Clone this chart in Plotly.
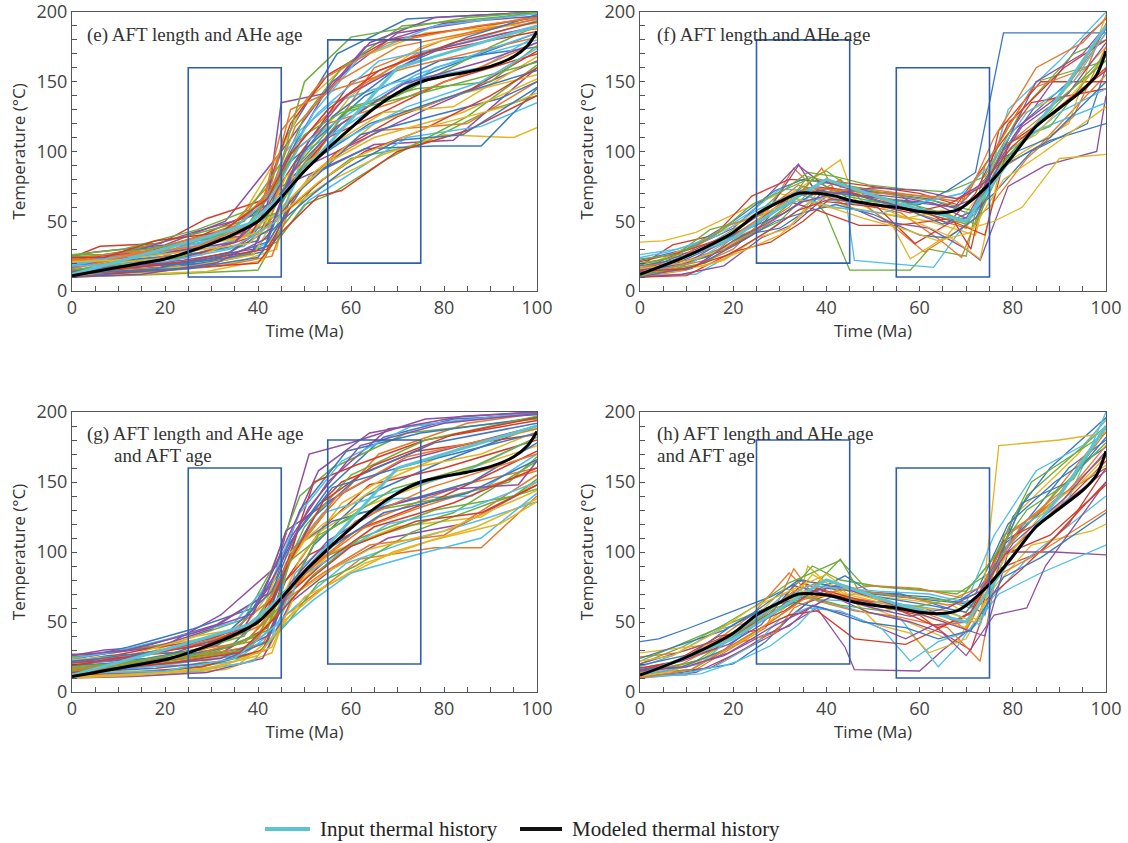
import plotly.graph_objects as go

# ---------------- data ----------------
PALETTE = ["#3A78C0", "#E8792A", "#E5B420", "#8E4FA0", "#6BAE3B", "#D53B2A", "#4DBEEE"]

# Thermal-history paths (time Ma, temperature °C)
PATHS_E = [
    [(0,12),(12,18),(30,22),(42,35),(47,80),(58,120),(72,150),(88,170),(100,185)],
    [(0,20),(8,25),(25,30),(40,45),(45,70),(53,100),(65,160),(80,180),(100,195)],
    [(0,15),(15,15),(35,20),(44,30),(48,90),(60,140),(75,175),(90,190),(100,198)],
    [(0,25),(5,28),(20,33),(33,50),(45,100),(56,150),(70,185),(100,200)],
    [(0,10),(20,12),(40,15),(45,45),(52,75),(60,95),(75,105),(90,130),(100,140)],
    [(0,18),(10,22),(28,40),(38,55),(44,65),(55,110),(68,130),(80,150),(100,170)],
    [(0,14),(7,20),(22,25),(37,32),(46,62),(50,100),(62,125),(78,160),(100,180)],
    [(0,22),(14,30),(30,35),(41,60),(46,110),(57,170),(72,195),(100,200)],
    [(0,11),(18,14),(32,18),(43,25),(48,70),(56,95),(66,115),(85,120),(100,150)],
    [(0,16),(12,25),(24,28),(35,45),(44,95),(50,135),(60,165),(76,185),(100,192)],
    [(0,19),(9,19),(26,36),(39,40),(45,75),(54,88),(65,105),(82,108),(100,160)],
    [(0,13),(16,20),(31,30),(42,48),(47,85),(59,130),(70,140),(90,175),(100,190)],
    [(0,24),(6,32),(19,34),(29,52),(41,65),(47,120),(55,155),(68,180),(100,196)],
    [(0,12),(21,16),(36,24),(45,40),(51,65),(58,80),(72,110),(88,118),(100,135)],
    [(0,17),(11,22),(27,27),(40,36),(46,90),(53,110),(63,140),(79,165),(100,175)],
    [(0,21),(15,28),(33,44),(43,70),(48,105),(61,145),(74,170),(93,185),(100,188)],
    [(0,10),(13,12),(29,14),(41,22),(45,55),(55,78),(67,98),(80,112),(95,110),(100,117)],
    [(0,15),(10,18),(24,22),(39,30),(44,68),(52,92),(62,108),(76,130),(100,165)],
    [(0,26),(8,26),(23,38),(37,50),(44,80),(50,125),(58,160),(71,190),(100,199)],
    [(0,13),(19,17),(34,28),(44,52),(49,72),(57,100),(70,125),(86,145),(100,172)],
    [(0,18),(14,24),(30,31),(39,42),(43,60),(49,115),(56,135),(70,150),(88,160),(100,183)],
    [(0,11),(9,16),(25,20),(38,26),(45,50),(51,82),(63,102),(78,104),(88,104),(100,145)],
    [(0,20),(17,22),(28,34),(42,42),(46,95),(55,120),(69,135),(84,155),(100,178)],
    [(0,16),(6,20),(21,29),(36,38),(45,58),(52,85),(65,120),(82,140),(100,155)],
    [(0,23),(12,27),(26,42),(40,55),(45,88),(54,140),(63,175),(80,192),(100,197)],
    [(0,12),(22,15),(37,26),(44,35),(50,62),(56,70),(68,95),(85,125),(100,162)],
    [(0,14),(11,20),(25,24),(38,38),(44,72),(49,98),(60,150),(75,170),(100,186)],
    [(0,19),(18,26),(31,40),(41,52),(46,100),(53,128),(66,165),(84,178),(100,194)],
    [(0,10),(15,14),(32,22),(43,33),(47,66),(55,90),(62,112),(77,125),(92,138),(100,150)],
    [(0,22),(8,24),(20,30),(34,46),(43,78),(47,130),(57,145),(72,160),(100,182)],
    [(0,17),(13,21),(28,26),(41,44),(46,82),(56,105),(67,128),(82,132),(100,168)],
    [(0,15),(20,20),(35,35),(42,62),(45,135),(55,142),(64,178),(78,196),(100,200)],
    [(0,25),(4,25),(16,30),(30,38),(44,56),(50,92),(60,132),(74,145),(90,150),(100,176)],
    [(0,12),(10,13),(27,17),(40,20),(45,42),(53,68),(58,72),(70,100),(85,115),(100,140)],
    [(0,20),(10,24),(26,32),(38,46),(45,85),(52,128),(62,168),(78,190),(100,199)],
    [(0,14),(16,18),(30,20),(41,28),(46,72),(53,96),(64,120),(80,138),(100,158)],
    [(0,23),(9,27),(22,30),(36,48),(43,74),(48,118),(57,150),(70,175),(100,195)],
    [(0,11),(12,15),(26,18),(39,26),(45,60),(55,92),(65,110),(84,128),(100,152)],
    [(0,17),(8,22),(21,28),(35,35),(44,62),(51,108),(59,140),(77,172),(100,190)],
    [(0,26),(11,30),(27,44),(38,58),(45,92),(50,150),(60,182),(85,196),(100,200)],
    [(0,13),(14,17),(29,23),(42,30),(47,60),(54,80),(63,100),(75,115),(90,140),(100,160)],
    [(0,19),(6,23),(19,27),(33,40),(43,68),(49,104),(60,128),(74,155),(100,185)],
    [(0,12),(18,16),(33,26),(43,45),(48,92),(56,125),(70,160),(85,182),(100,198)],
    [(0,16),(13,26),(27,32),(40,50),(45,115),(54,152),(68,178),(87,190),(100,196)],
    [(0,21),(9,22),(24,28),(38,34),(46,58),(53,78),(61,96),(77,118),(93,132),(100,142)],
    [(0,10),(15,12),(31,20),(42,38),(47,84),(57,118),(71,148),(89,165),(100,178)],
    [(0,15),(10,19),(23,24),(37,44),(44,76),(50,112),(58,128),(73,140),(100,164)],
    [(0,24),(7,24),(18,36),(32,42),(42,66),(47,98),(55,130),(66,158),(82,178),(100,193)],
    [(0,18),(20,21),(34,30),(44,50),(50,90),(58,108),(72,132),(88,150),(100,174)],
    [(0,12),(9,14),(25,16),(40,24),(45,50),(52,70),(59,88),(70,108),(84,112),(100,146)],
]

PATHS_G = [
    [(0,13),(9,17),(24,24),(38,32),(45,60),(52,105),(63,140),(80,165),(100,190)],
    [(0,21),(14,26),(28,30),(41,48),(46,92),(55,130),(66,170),(85,192),(100,199)],
    [(0,11),(17,12),(33,16),(43,28),(48,75),(56,100),(70,118),(88,125),(100,150)],
    [(0,26),(7,30),(20,33),(32,55),(44,90),(51,170),(60,178),(76,195),(100,200)],
    [(0,16),(11,22),(27,26),(40,40),(45,70),(53,95),(66,112),(82,128),(100,165)],
    [(0,18),(6,22),(19,30),(34,38),(44,65),(49,120),(58,150),(74,172),(100,184)],
    [(0,12),(20,15),(35,22),(44,45),(48,85),(57,112),(69,138),(86,140),(100,170)],
    [(0,23),(12,32),(26,45),(39,60),(45,98),(55,145),(67,182),(82,195),(100,198)],
    [(0,14),(15,18),(30,20),(42,30),(46,55),(53,72),(62,95),(78,103),(88,103),(100,140)],
    [(0,19),(10,20),(22,35),(36,42),(44,78),(50,108),(61,130),(77,150),(100,176)],
    [(0,10),(13,11),(29,14),(41,24),(47,64),(56,88),(68,110),(84,120),(100,148)],
    [(0,25),(9,28),(23,36),(37,52),(43,88),(49,140),(56,160),(72,185),(100,195)],
    [(0,15),(18,21),(32,28),(42,46),(46,80),(54,118),(64,148),(80,160),(100,180)],
    [(0,12),(8,15),(21,20),(36,26),(45,52),(51,70),(59,92),(71,106),(90,125),(100,136)],
    [(0,20),(16,24),(31,33),(40,50),(45,84),(52,125),(62,155),(78,178),(100,192)],
    [(0,17),(12,19),(26,30),(39,36),(46,72),(55,98),(66,125),(84,148),(100,160)],
    [(0,13),(22,16),(38,30),(44,58),(49,95),(58,135),(70,158),(88,170),(100,186)],
    [(0,24),(5,26),(17,34),(31,48),(42,70),(47,110),(55,150),(68,188),(100,200)],
    [(0,11),(14,13),(28,18),(40,28),(46,48),(53,78),(61,90),(73,114),(90,135),(100,145)],
    [(0,18),(10,25),(25,32),(38,44),(45,76),(51,98),(63,118),(80,140),(100,172)],
    [(0,14),(17,18),(33,25),(43,38),(47,100),(54,128),(66,140),(85,158),(100,182)],
    [(0,22),(8,26),(22,28),(35,42),(44,82),(49,130),(59,172),(75,185),(100,196)],
    [(0,16),(13,22),(29,27),(41,34),(46,66),(54,85),(64,105),(80,112),(100,155)],
    [(0,12),(20,14),(36,20),(44,42),(50,68),(57,80),(69,100),(87,118),(100,138)],
    [(0,27),(6,27),(18,32),(30,45),(41,68),(46,115),(56,138),(71,165),(100,190)],
    [(0,15),(9,18),(24,26),(37,35),(45,62),(53,112),(62,128),(79,138),(94,150),(100,168)],
    [(0,20),(15,30),(30,38),(42,54),(46,90),(52,150),(61,162),(76,180),(100,194)],
    [(0,10),(11,13),(27,15),(39,22),(45,46),(52,66),(60,85),(74,98),(88,110),(100,142)],
    [(0,19),(16,22),(34,32),(43,62),(48,104),(56,122),(70,135),(86,150),(100,178)],
    [(0,13),(7,16),(23,22),(38,30),(44,56),(51,88),(61,115),(75,132),(100,158)],
    [(0,23),(12,26),(27,40),(40,48),(45,94),(54,120),(68,152),(84,175),(100,188)],
    [(0,16),(19,20),(32,24),(42,40),(47,78),(55,108),(67,132),(82,145),(96,148),(100,165)],
    [(0,17),(10,20),(24,28),(37,40),(44,74),(50,118),(60,155),(76,180),(100,197)],
    [(0,12),(13,14),(28,18),(41,30),(46,68),(54,92),(65,118),(82,135),(100,160)],
    [(0,24),(8,28),(21,38),(35,50),(43,80),(49,128),(58,165),(73,190),(100,200)],
    [(0,14),(18,17),(32,22),(42,36),(47,76),(56,104),(67,128),(85,142),(100,166)],
    [(0,20),(7,22),(19,28),(33,40),(42,64),(48,102),(57,140),(72,168),(100,188)],
    [(0,11),(16,13),(31,17),(43,32),(48,70),(55,86),(64,102),(80,115),(100,144)],
    [(0,26),(12,30),(26,42),(39,56),(45,100),(53,158),(64,185),(84,197),(100,200)],
    [(0,15),(9,18),(23,23),(37,30),(45,58),(52,84),(62,110),(78,130),(95,140),(100,152)],
    [(0,19),(14,26),(29,34),(41,52),(46,88),(54,136),(65,162),(82,184),(100,196)],
    [(0,13),(20,15),(35,24),(44,48),(49,82),(57,98),(68,120),(86,132),(100,150)],
    [(0,22),(6,24),(20,30),(34,44),(43,72),(48,112),(56,146),(70,160),(88,175),(100,185)],
    [(0,16),(11,20),(25,25),(38,38),(45,66),(53,94),(61,122),(77,146),(100,170)],
    [(0,10),(14,12),(28,16),(40,26),(46,52),(54,74),(63,92),(77,108),(92,120),(100,136)],
    [(0,21),(10,23),(24,33),(37,46),(44,86),(51,132),(62,176),(80,192),(100,199)],
    [(0,18),(17,22),(31,29),(42,44),(47,94),(55,115),(69,145),(87,162),(100,182)],
    [(0,14),(8,16),(22,21),(36,28),(44,54),(51,80),(60,104),(74,122),(88,128),(100,148)],
]

PATHS_F = [
    [(0,12),(8,20),(18,35),(28,55),(35,75),(42,70),(55,65),(68,60),(74,80),(82,120),(92,150),(100,190)],
    [(0,10),(10,15),(20,30),(26,50),(33,88),(38,72),(50,68),(60,55),(70,45),(77,100),(88,130),(100,185)],
    [(0,35),(5,36),(12,42),(22,58),(30,70),(40,60),(48,58),(62,50),(72,40),(78,120),(90,140),(100,175)],
    [(0,15),(9,28),(20,45),(25,60),(34,91),(37,75),(45,72),(55,70),(66,48),(72,55),(80,110),(95,180),(100,195)],
    [(0,12),(14,20),(22,38),(30,50),(36,70),(40,55),(45,15),(58,15),(62,30),(70,25),(74,90),(85,150),(100,165)],
    [(0,18),(7,33),(16,40),(24,68),(32,80),(43,78),(52,74),(60,70),(68,62),(75,95),(84,135),(100,145)],
    [(0,11),(12,12),(19,25),(27,42),(37,65),(44,70),(46,22),(63,17),(68,40),(73,60),(79,130),(90,165),(100,200)],
    [(0,22),(10,30),(20,50),(29,72),(35,80),(41,77),(50,71),(62,66),(71,55),(76,70),(84,100),(96,120),(100,160)],
    [(0,14),(6,25),(15,30),(25,45),(32,60),(39,88),(43,65),(56,56),(65,35),(69,24),(76,85),(86,105),(100,155)],
    [(0,16),(13,36),(21,48),(28,62),(34,73),(43,94),(46,66),(54,48),(58,23),(66,40),(72,65),(80,95),(92,120),(100,198)],
    [(0,10),(9,12),(18,18),(26,38),(33,48),(40,68),(52,50),(62,45),(70,30),(73,22),(79,75),(87,90),(98,100),(100,140)],
    [(0,20),(11,26),(24,52),(30,70),(36,85),(42,82),(49,76),(57,73),(66,71),(74,82),(82,130),(93,170),(100,180)],
    [(0,13),(8,18),(17,28),(24,40),(31,65),(38,58),(47,47),(55,47),(67,52),(71,30),(77,115),(86,150),(100,150)],
    [(0,24),(6,28),(14,36),(23,55),(30,73),(37,72),(45,63),(53,60),(64,57),(70,49),(77,95),(85,115),(100,135)],
    [(0,12),(15,25),(22,40),(30,45),(35,56),(40,74),(49,68),(60,62),(66,72),(72,85),(78,185),(100,185)],
    [(0,17),(10,22),(19,32),(27,47),(35,65),(43,80),(49,60),(56,42),(61,28),(69,45),(75,60),(83,95),(93,125),(100,175)],
    [(0,11),(8,14),(18,22),(25,38),(32,45),(38,70),(45,60),(57,52),(65,58),(71,45),(76,50),(82,60),(90,95),(100,98)],
    [(0,14),(12,30),(20,42),(28,60),(34,90),(41,72),(53,66),(63,63),(70,52),(76,88),(85,150),(95,170),(100,190)],
    [(0,19),(7,24),(15,44),(22,50),(31,60),(36,82),(44,76),(54,69),(64,64),(72,57),(78,105),(88,118),(100,170)],
    [(0,10),(10,11),(20,28),(28,35),(35,50),(40,64),(51,60),(59,34),(66,48),(72,70),(79,120),(91,160),(100,180)],
    [(0,26),(8,30),(17,40),(25,58),(33,70),(40,65),(50,64),(58,62),(67,68),(74,75),(80,100),(90,128),(100,145)],
    [(0,12),(11,16),(21,34),(29,50),(36,57),(42,62),(50,55),(60,40),(66,38),(72,52),(78,90),(88,108),(100,120)],
    [(0,16),(9,24),(18,46),(26,55),(34,76),(39,70),(47,74),(60,68),(69,64),(76,100),(84,145),(96,160),(100,192)],
    [(0,13),(14,18),(23,30),(30,40),(37,62),(44,76),(53,58),(60,48),(66,40),(73,23),(78,100),(85,112),(100,168)],
    [(0,15),(10,20),(19,38),(26,52),(33,70),(40,78),(48,70),(58,66),(67,60),(73,68),(80,115),(90,140),(100,188)],
    [(0,11),(8,16),(17,30),(25,44),(32,62),(37,80),(44,68),(54,62),(63,54),(70,48),(77,90),(87,125),(100,170)],
    [(0,21),(9,28),(18,38),(26,50),(34,68),(41,74),(50,66),(59,58),(67,50),(74,40),(79,105),(89,128),(100,160)],
    [(0,13),(11,20),(21,40),(29,58),(35,66),(42,60),(52,56),(61,64),(69,70),(75,90),(83,128),(93,150),(100,185)],
    [(0,18),(7,22),(16,34),(24,46),(31,56),(38,72),(47,68),(56,60),(65,48),(72,58),(78,96),(88,110),(100,150)],
    [(0,12),(14,22),(22,44),(30,62),(36,74),(43,72),(51,70),(62,68),(70,66),(76,110),(85,160),(95,178),(100,196)],
    [(0,16),(9,20),(18,30),(27,56),(33,66),(39,62),(48,52),(57,44),(64,36),(71,42),(78,80),(86,98),(100,132)],
    [(0,10),(12,18),(20,36),(27,48),(35,64),(42,70),(50,74),(60,72),(68,66),(74,78),(82,118),(92,142),(100,178)],
    [(0,23),(8,26),(17,42),(24,62),(32,74),(40,86),(46,72),(56,64),(65,56),(72,48),(78,92),(88,132),(100,165)],
    [(0,14),(10,16),(19,26),(28,44),(34,58),(41,66),(50,62),(58,56),(66,62),(73,74),(80,104),(91,135),(100,158)],
]

PATHS_H = [
    [(0,36),(4,38),(10,45),(20,58),(28,68),(35,80),(45,72),(56,70),(66,60),(73,75),(80,110),(92,160),(100,180)],
    [(0,12),(10,12),(19,30),(27,46),(33,88),(37,70),(48,66),(60,58),(70,45),(76,95),(86,130),(100,188)],
    [(0,15),(8,22),(17,38),(26,52),(34,65),(36,90),(42,72),(50,60),(59,48),(68,35),(72,60),(80,125),(94,170),(100,195)],
    [(0,10),(12,14),(21,28),(28,40),(33,50),(38,60),(44,32),(46,16),(60,15),(65,30),(72,48),(78,105),(90,140),(100,160)],
    [(0,20),(9,32),(18,48),(25,62),(32,78),(43,94),(48,76),(58,74),(68,70),(75,85),(83,140),(95,175),(100,190)],
    [(0,13),(15,17),(23,32),(29,44),(36,64),(41,70),(50,62),(60,55),(66,40),(71,30),(77,88),(86,100),(100,150)],
    [(0,18),(7,26),(17,45),(24,50),(31,70),(39,65),(47,58),(56,52),(64,18),(68,32),(75,65),(83,95),(100,140)],
    [(0,11),(9,14),(20,20),(27,36),(33,56),(40,74),(52,70),(62,68),(71,62),(74,55),(80,125),(88,160),(100,196)],
    [(0,25),(8,28),(16,36),(24,55),(32,85),(38,65),(46,58),(55,54),(66,46),(73,22),(78,112),(89,135),(100,170)],
    [(0,14),(12,20),(21,42),(28,56),(35,72),(42,78),(51,48),(58,42),(62,28),(70,38),(76,75),(84,105),(97,115),(100,120)],
    [(0,12),(10,18),(18,26),(26,40),(32,47),(37,62),(45,55),(57,38),(63,48),(71,50),(77,100),(89,100),(100,98)],
    [(0,22),(13,40),(22,53),(30,64),(37,90),(43,80),(52,75),(62,72),(70,72),(76,96),(84,150),(93,170),(100,185)],
    [(0,16),(6,20),(14,30),(22,45),(30,60),(35,78),(44,66),(53,64),(61,60),(68,50),(74,65),(82,88),(92,120),(100,160)],
    [(0,10),(8,12),(16,18),(25,35),(30,52),(36,60),(43,58),(52,45),(58,22),(64,36),(71,44),(77,70),(86,85),(100,105)],
    [(0,19),(11,27),(20,48),(27,60),(35,68),(44,83),(50,70),(61,66),(67,64),(72,70),(79,120),(89,150),(100,175)],
    [(0,12),(14,24),(22,36),(29,42),(33,60),(41,72),(48,63),(58,60),(66,55),(70,44),(76,82),(85,98),(100,130)],
    [(0,28),(5,30),(15,34),(23,48),(31,74),(37,68),(46,70),(57,66),(67,62),(73,50),(77,176),(90,180),(100,185)],
    [(0,15),(9,22),(19,34),(26,48),(33,76),(40,70),(49,57),(58,50),(65,42),(70,26),(76,55),(83,60),(87,90),(100,150)],
    [(0,13),(11,16),(20,33),(28,50),(34,64),(43,95),(47,72),(56,68),(65,66),(71,60),(78,100),(90,145),(100,178)],
    [(0,17),(7,21),(17,40),(25,44),(32,55),(38,58),(46,38),(57,34),(64,45),(71,57),(78,108),(88,125),(100,165)],
    [(0,11),(13,13),(21,22),(28,33),(34,48),(39,66),(50,64),(58,62),(66,58),(73,48),(80,115),(92,138),(100,200)],
    [(0,24),(9,34),(18,44),(25,58),(34,80),(41,76),(51,68),(62,62),(70,57),(75,80),(82,135),(92,150),(100,182)],
    [(0,14),(9,20),(18,36),(26,54),(33,72),(40,80),(48,72),(57,68),(66,62),(72,66),(79,112),(90,142),(100,186)],
    [(0,11),(7,15),(17,28),(25,42),(31,60),(37,84),(44,70),(54,62),(63,52),(70,46),(77,92),(87,124),(100,168)],
    [(0,20),(10,30),(19,40),(27,52),(35,70),(42,76),(51,66),(60,56),(67,48),(74,40),(79,100),(89,130),(100,158)],
    [(0,13),(12,22),(21,42),(29,60),(36,68),(43,62),(52,58),(61,62),(69,68),(75,92),(83,130),(93,152),(100,190)],
    [(0,17),(8,22),(17,32),(24,48),(31,58),(38,74),(47,66),(56,58),(64,46),(71,56),(78,98),(88,112),(100,148)],
    [(0,12),(13,20),(22,46),(30,64),(36,76),(43,74),(51,72),(62,70),(70,64),(76,112),(85,158),(95,176),(100,194)],
    [(0,16),(9,18),(18,30),(27,54),(33,64),(39,60),(48,50),(57,46),(64,38),(71,44),(78,82),(86,96),(100,128)],
    [(0,10),(11,16),(20,34),(28,50),(35,66),(42,72),(50,76),(60,74),(68,68),(74,76),(82,120),(92,144),(100,176)],
    [(0,22),(7,26),(17,44),(24,60),(32,72),(40,84),(46,70),(56,62),(65,58),(72,50),(78,94),(88,134),(100,162)],
    [(0,15),(10,18),(19,28),(28,46),(34,56),(41,68),(50,60),(58,54),(66,60),(73,72),(80,106),(91,138),(100,172)],
]

# Input (cyan) and modeled (black) thermal histories
INPUT_EG_T = [0, 25, 38, 45, 57, 70, 100]
INPUT_EG_V = [12, 35, 48, 68, 112, 160, 190]
MODEL_EG_T = [0, 5, 10, 15, 20, 25, 30, 35, 40, 45, 50, 55, 60, 65, 70, 75, 80, 85, 90, 95, 98, 100]
MODEL_EG_V = [11, 14, 17, 20, 23, 28, 34, 41, 50, 67, 86, 102, 117, 131, 142, 150, 154, 157, 161, 168, 176, 186]

INPUT_FH_T = [0, 20, 35, 40, 55, 70, 80, 90, 100]
INPUT_FH_V = [12, 38, 70, 80, 63, 50, 97, 140, 190]
MODEL_FH_T = [0, 10, 20, 25, 30, 34, 38, 42, 45, 50, 55, 60, 64, 68, 70, 75, 80, 85, 90, 95, 98, 100]
MODEL_FH_V = [12, 25, 42, 55, 64, 70, 70, 68, 65, 62, 60, 57, 56, 58, 62, 77, 97, 118, 131, 144, 155, 172]

# Constraint boxes: (t_min, t_max, T_min, T_max)
BOXES_EG = [(25, 45, 10, 160), (55, 75, 20, 180)]
BOXES_FH = [(25, 45, 20, 180), (55, 75, 10, 160)]

TITLES = {
    "e": ["(e) AFT length and AHe age"],
    "f": ["(f) AFT length and AHe age"],
    "g": ["(g) AFT length and AHe age", "and AFT age"],
    "h": ["(h) AFT length and AHe age", "and AFT age"],
}

# ---------------- layout helpers ----------------
W, H = 1128, 843
def px_x(p): return p / W
def px_y(p): return 1 - p / H

PANELS = [
    dict(key="e", ax="", paths=PATHS_E, lw=1.5, boxes=BOXES_EG, it=INPUT_EG_T, iv=INPUT_EG_V, mt=MODEL_EG_T, mv=MODEL_EG_V,
         xd=[px_x(72), px_x(537)], yd=[px_y(291), px_y(12)], tx=[85, 85], ty=[35, 55]),
    dict(key="f", ax="2", paths=PATHS_F, lw=1.3, boxes=BOXES_FH, it=INPUT_FH_T, iv=INPUT_FH_V, mt=MODEL_FH_T, mv=MODEL_FH_V,
         xd=[px_x(640), px_x(1106)], yd=[px_y(291), px_y(12)], tx=[655, 655], ty=[35, 55]),
    dict(key="g", ax="3", paths=PATHS_G, lw=1.5, boxes=BOXES_EG, it=INPUT_EG_T, iv=INPUT_EG_V, mt=MODEL_EG_T, mv=MODEL_EG_V,
         xd=[px_x(72), px_x(537)], yd=[px_y(692), px_y(412)], tx=[85, 112], ty=[434, 455]),
    dict(key="h", ax="4", paths=PATHS_H, lw=1.3, boxes=BOXES_FH, it=INPUT_FH_T, iv=INPUT_FH_V, mt=MODEL_FH_T, mv=MODEL_FH_V,
         xd=[px_x(640), px_x(1106)], yd=[px_y(692), px_y(412)], tx=[655, 655], ty=[434, 455]),
]

fig = go.Figure()
shapes = []
annotations = []

TICK_FONT = dict(family="Open Sans", size=18, color="#444444")
TITLE_FONT = dict(family="Open Sans", size=17, color="#333333")
BOX_COLOR = "#2F5FA8"
CYAN = "#5CC3D3"

for pnl in PANELS:
    xa = "x" + pnl["ax"]
    ya = "y" + pnl["ax"]
    for i, path in enumerate(pnl["paths"]):
        fig.add_trace(go.Scatter(
            x=[p[0] for p in path], y=[p[1] for p in path], mode="lines",
            line=dict(color=PALETTE[i % len(PALETTE)], width=pnl["lw"]),
            xaxis=xa, yaxis=ya, showlegend=False, hoverinfo="skip"))
    for (t0, t1, v0, v1) in pnl["boxes"]:
        shapes.append(dict(type="rect", xref=xa, yref=ya, x0=t0, x1=t1, y0=v0, y1=v1,
                           line=dict(color=BOX_COLOR, width=1.6), layer="above"))
    fig.add_trace(go.Scatter(x=pnl["it"], y=pnl["iv"], mode="lines",
                             line=dict(color=CYAN, width=3),
                             xaxis=xa, yaxis=ya, showlegend=False, hoverinfo="skip"))
    fig.add_trace(go.Scatter(x=pnl["mt"], y=pnl["mv"], mode="lines",
                             line=dict(color="#000000", width=3, shape="spline", smoothing=0.8),
                             xaxis=xa, yaxis=ya, showlegend=False, hoverinfo="skip"))
    for line_txt, lx, ly in zip(TITLES[pnl["key"]], pnl["tx"], pnl["ty"]):
        annotations.append(dict(text=line_txt, xref="paper", yref="paper",
                                x=px_x(lx), y=px_y(ly), xanchor="left", yanchor="middle",
                                showarrow=False,
                                font=dict(family="Liberation Serif", size=19, color="#333333")))

    axis_common = dict(showline=True, linecolor="#555555", linewidth=1, mirror=True,
                       ticks="inside", ticklen=5, tickcolor="#555555", tickwidth=1,
                       showgrid=False, zeroline=False, tickfont=TICK_FONT, automargin=False,
                       ticklabeloverflow="allow")
    xkey = "xaxis" + pnl["ax"]
    ykey = "yaxis" + pnl["ax"]
    fig.update_layout(**{
        xkey: dict(domain=pnl["xd"], anchor=ya, range=[0, 100], dtick=20, tick0=0,
                   minor=dict(dtick=5, ticks="inside", ticklen=5, tickcolor="#555555"),
                   title=dict(text="Time (Ma)", font=TITLE_FONT, standoff=2), **axis_common),
        ykey: dict(domain=pnl["yd"], anchor=xa, range=[0, 200], dtick=50, tick0=0,
                   minor=dict(dtick=10, ticks="inside", ticklen=5, tickcolor="#555555"),
                   title=dict(text="Temperature (°C)", font=TITLE_FONT, standoff=6), **axis_common),
    })

# ---------------- legend (drawn below the panels) ----------------
LEGEND_ITEMS = [("Input thermal history", CYAN, 265, 310, 318),
                ("Modeled thermal history", "#111111", 520, 562, 570)]
LEG_Y = 829
for name, col, x0, x1, tx in LEGEND_ITEMS:
    shapes.append(dict(type="line", xref="paper", yref="paper", x0=px_x(x0), x1=px_x(x1),
                       y0=px_y(LEG_Y), y1=px_y(LEG_Y), line=dict(color=col, width=4)))
    annotations.append(dict(text=name, xref="paper", yref="paper", x=px_x(tx), y=px_y(LEG_Y),
                            xanchor="left", yanchor="middle", showarrow=False,
                            font=dict(family="Liberation Serif", size=21, color="#222222")))

fig.update_layout(width=W, height=H, margin=dict(l=0, r=0, t=0, b=0),
                  paper_bgcolor="white", plot_bgcolor="white",
                  shapes=shapes, annotations=annotations, showlegend=False,
                  hovermode=False)

fig.write_html("out.html", config={"displayModeBar": False},
               post_script="document.body.style.margin='0px';document.body.style.overflow='hidden';")
